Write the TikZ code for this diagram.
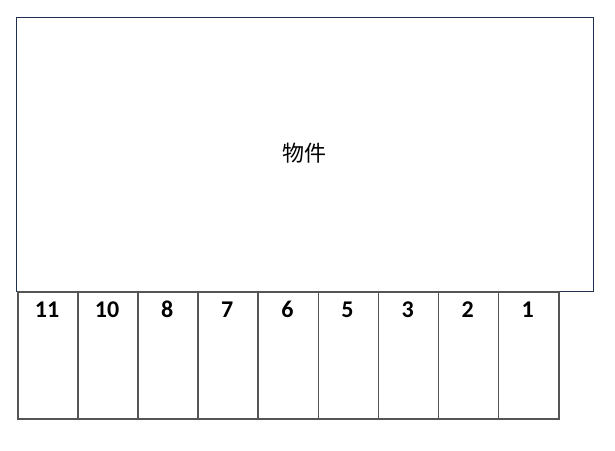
\documentclass[tikz,border=0pt]{standalone}
\usepackage{fontspec}
\setmainfont{Carlito}
\newfontfamily\cjk{Noto Sans CJK JP}
\definecolor{navy}{HTML}{1F3050}
\definecolor{slotgray}{HTML}{555555}
\begin{document}
\begin{tikzpicture}[x=1pt,y=-1pt,
  building/.style={draw=navy,line width=1pt},
  slot/.style={draw=slotgray,line width=1.6pt,minimum width=60.1pt,minimum height=127pt,anchor=north west,inner sep=0pt},
  slotlabel/.style={font=\fontsize{24}{28}\selectfont\bfseries,anchor=base,inner sep=0pt}]
\useasboundingbox (0,0) rectangle (615,450);
\node[building,minimum width=577pt,minimum height=274pt,anchor=north west,inner sep=0pt] (bldg) at (16,17) {};
\node[font=\cjk\fontsize{22}{26}\selectfont] (bname) at (304,153) {物件};
\foreach \lab [count=\i from 0] in {11,10,8,7,6,5,3,2,1} {
  \node[slot] (s\i) at (17+60.1*\i,291) {};
  \node[slotlabel] (l\i) at (47+60.1*\i,317) {\lab};
}
\end{tikzpicture}
\end{document}
